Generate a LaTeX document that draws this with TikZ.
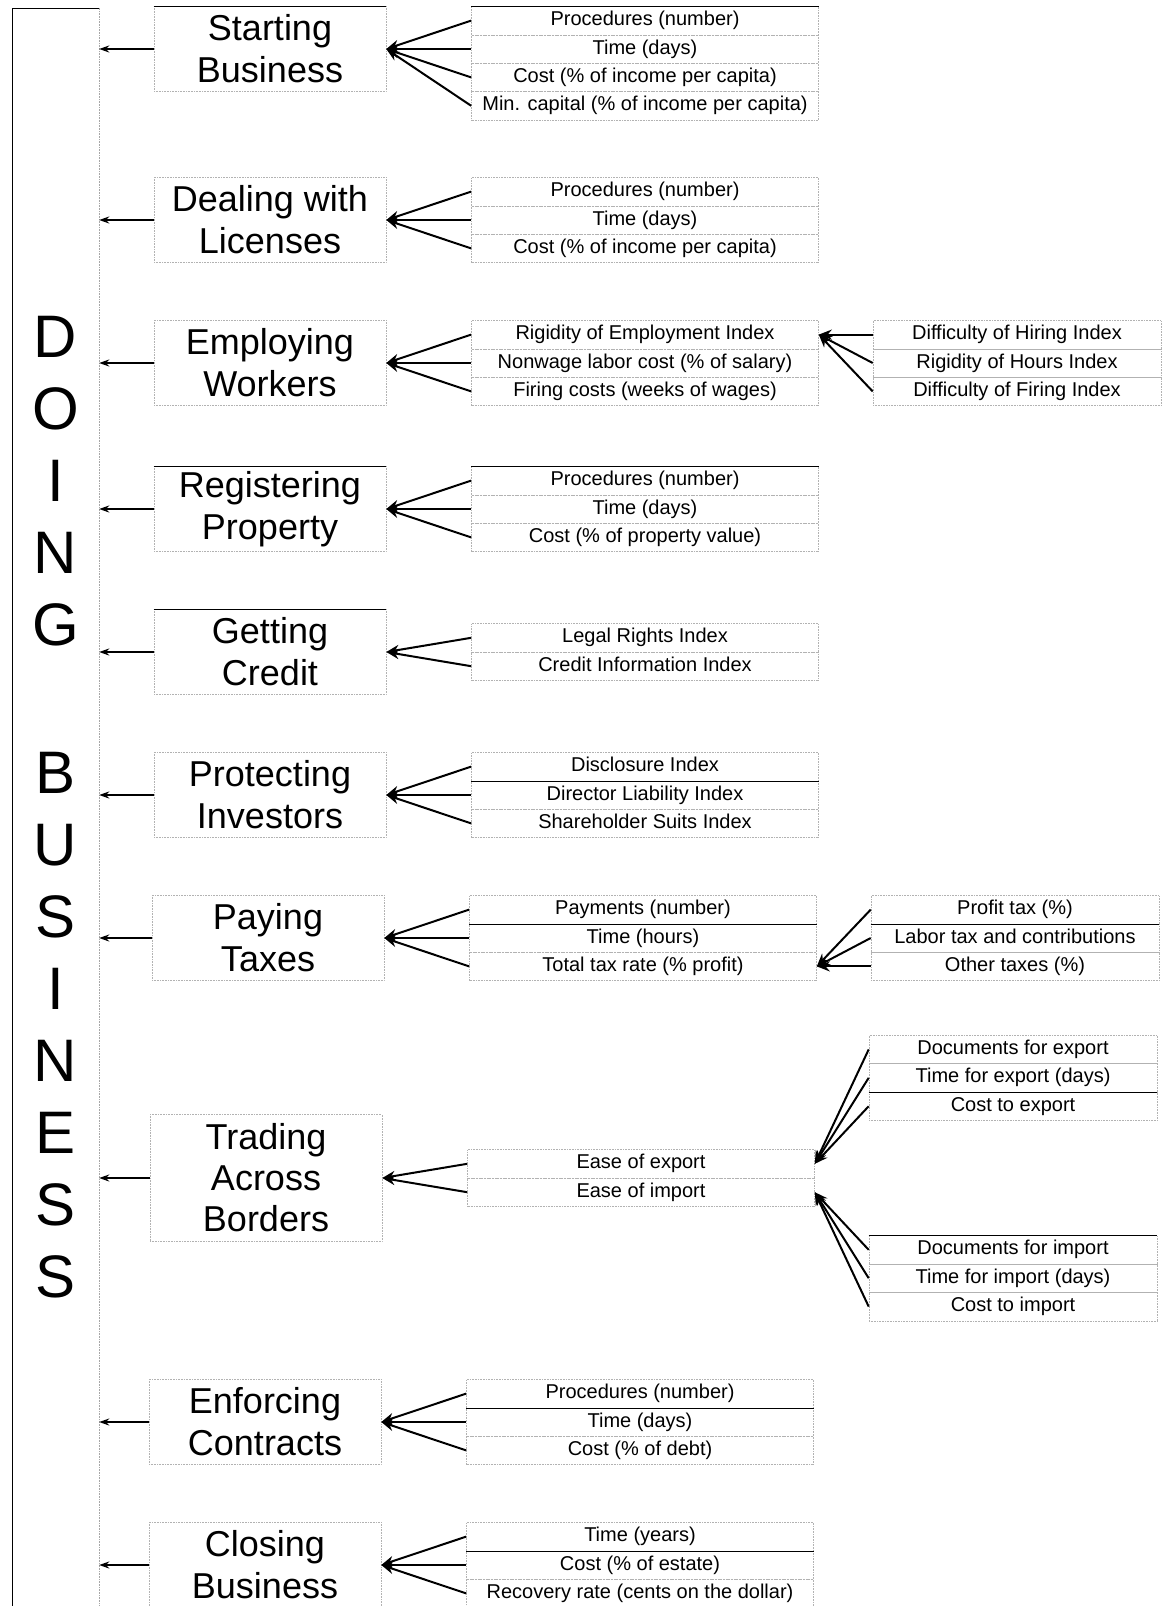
\documentclass[tikz,border=0pt]{standalone}
\usepackage{fontspec}
\setmainfont{Liberation Sans}
\usetikzlibrary{positioning,arrows.meta}

\tikzset{
  catbox/.style={draw=gray!60, densely dotted, line width=0.6pt, minimum width=232pt, minimum height=85.2pt, inner sep=0pt, align=center, font=\fontsize{36}{42}\selectfont},
  indbox/.style={draw=gray!60, densely dotted, line width=0.6pt, minimum width=347pt, minimum height=28.4pt, inner sep=0pt, text height=14.5pt, text depth=4.5pt, node distance=28.4pt, font=\fontsize{20}{24}\selectfont},
  subbox/.style={indbox, minimum width=288pt},
  fanline/.style={solid, ->, >={Stealth[length=13pt,width=10pt]}, line width=2pt},
  backarrow/.style={solid, ->, >={Stealth[length=10pt,width=7pt]}, line width=1.7pt},
  solidrule/.style={solid, line width=0.9pt}
}

\begin{document}
\begin{tikzpicture}[x=1pt,y=1pt,node distance=143pt]
\useasboundingbox (0,0) rectangle (1163,-1606);

% big label on the left
\node[minimum width=87pt, minimum height=1598pt, inner sep=0pt, align=center, font=\fontsize{60}{72}\selectfont] (DB) at (55.5,-807) {D\\O\\I\\N\\G\\[76pt]B\\U\\S\\I\\N\\E\\S\\S};
\draw (DB.south west) -- (DB.north west) -- (DB.north east);
\draw[gray!70, densely dotted, line width=0.6pt] (DB.north east) -- (DB.south east);

% categories
\node[catbox] (SB) at (270,-49) {Starting\\Business};
\node[catbox] (DL) [below of = SB, yshift=-28] {Dealing with\\Licenses};
\node[catbox] (EW) [below of = DL] {Employing\\Workers};
\node[catbox] (RP) [below of = EW, yshift=-3] {Registering\\Property};
\node[catbox] (GC) [below of = RP] {Getting\\Credit};
\node[catbox] (PI) [below of = GC] {Protecting\\Investors};
\node[catbox] (PT) [below of = PI, xshift=-2] {Paying\\Taxes};
\node[catbox, minimum height=127pt, font=\fontsize{36}{41}\selectfont] (TB) [below of = PT, yshift=-97, xshift=-2] {Trading\\Across\\Borders};
\node[catbox] (EC) [below of = TB, yshift=-101, xshift=-1] {Enforcing\\Contracts};
\node[catbox] (CB) [below of = EC] {Closing\\Business};

% indicators
\node[indbox] (SB2) [right of = SB, node distance=375pt] {Time (days)};
\node[indbox] (SB1) [above of = SB2] {Procedures (number)};
\node[indbox] (SB3) [below of = SB2] {Cost (\% of income per capita)};
\node[indbox] (SB4) [below of = SB3] {Min. capital (\% of income per capita)};

\node[indbox] (DL2) [right of = DL, node distance=375pt] {Time (days)};
\node[indbox] (DL1) [above of = DL2] {Procedures (number)};
\node[indbox] (DL3) [below of = DL2] {Cost (\% of income per capita)};

\node[indbox] (EW2) [right of = EW, node distance=375pt] {Nonwage labor cost (\% of salary)};
\node[indbox] (EW1) [above of = EW2] {Rigidity of Employment Index};
\node[indbox] (EW3) [below of = EW2] {Firing costs (weeks of wages)};

\node[subbox] (EWs2) [right of = EW2, node distance=372pt] {Rigidity of Hours Index};
\node[subbox] (EWs1) [above of = EWs2] {Difficulty of Hiring Index};
\node[subbox] (EWs3) [below of = EWs2] {Difficulty of Firing Index};

\node[indbox] (RP2) [right of = RP, node distance=375pt] {Time (days)};
\node[indbox] (RP1) [above of = RP2] {Procedures (number)};
\node[indbox] (RP3) [below of = RP2] {Cost (\% of property value)};

\node[indbox] (GC1) [right of = GC, node distance=375pt, yshift=14.2] {Legal Rights Index};
\node[indbox] (GC2) [below of = GC1] {Credit Information Index};

\node[indbox] (PI2) [right of = PI, node distance=375pt] {Director Liability Index};
\node[indbox] (PI1) [above of = PI2] {Disclosure Index};
\node[indbox] (PI3) [below of = PI2] {Shareholder Suits Index};

\node[indbox] (PT2) [right of = PT, node distance=375pt] {Time (hours)};
\node[indbox] (PT1) [above of = PT2] {Payments (number)};
\node[indbox] (PT3) [below of = PT2] {Total tax rate (\% profit)};

\node[subbox] (PTs2) [right of = PT2, node distance=372pt] {Labor tax and contributions};
\node[subbox] (PTs1) [above of = PTs2] {Profit tax (\%)};
\node[subbox] (PTs3) [below of = PTs2] {Other taxes (\%)};

\node[indbox] (TB1) [right of = TB, node distance=375pt, yshift=14.2] {Ease of export};
\node[indbox] (TB2) [below of = TB1] {Ease of import};

\node[subbox] (EX2) [right of = TB1, node distance=372pt, yshift=86] {Time for export (days)};
\node[subbox] (EX1) [above of = EX2] {Documents for export};
\node[subbox] (EX3) [below of = EX2] {Cost to export};

\node[subbox] (IM2) [right of = TB2, node distance=372pt, yshift=-86] {Time for import (days)};
\node[subbox] (IM1) [above of = IM2] {Documents for import};
\node[subbox] (IM3) [below of = IM2] {Cost to import};

\node[indbox] (EC2) [right of = EC, node distance=375pt] {Time (days)};
\node[indbox] (EC1) [above of = EC2] {Procedures (number)};
\node[indbox] (EC3) [below of = EC2] {Cost (\% of debt)};

\node[indbox] (CB2) [right of = CB, node distance=375pt] {Cost (\% of estate)};
\node[indbox] (CB1) [above of = CB2] {Time (years)};
\node[indbox] (CB3) [below of = CB2] {Recovery rate (cents on the dollar)};

% solid rules
\draw[solidrule]
  (SB.north west) -- (SB.north east) (SB1.north west) -- (SB1.north east)
  (RP.north west) -- (RP.north east) (RP1.north west) -- (RP1.north east)
  (GC.north west) -- (GC.north east)
  (PI1.south west) -- (PI1.south east)
  (PT1.south west) -- (PT1.south east) (PTs1.south west) -- (PTs1.south east)
  (EX2.south west) -- (EX2.south east) (IM1.north west) -- (IM1.north east)
  (EC1.south west) -- (EC1.south east)
  (CB1.south west) -- (CB1.south east);

% arrows
\path[fanline]
  (SB1.west) edge (SB.east)
  (SB2.west) edge (SB.east)
  (SB3.west) edge (SB.east)
  (SB4.west) edge (SB.east)
  (DL1.west) edge (DL.east)
  (DL2.west) edge (DL.east)
  (DL3.west) edge (DL.east)
  (EW1.west) edge (EW.east)
  (EW2.west) edge (EW.east)
  (EW3.west) edge (EW.east)
  (EWs1.west) edge (EW1.east)
  (EWs2.west) edge (EW1.east)
  (EWs3.west) edge (EW1.east)
  (RP1.west) edge (RP.east)
  (RP2.west) edge (RP.east)
  (RP3.west) edge (RP.east)
  (GC1.west) edge (GC.east)
  (GC2.west) edge (GC.east)
  (PI1.west) edge (PI.east)
  (PI2.west) edge (PI.east)
  (PI3.west) edge (PI.east)
  (PT1.west) edge (PT.east)
  (PT2.west) edge (PT.east)
  (PT3.west) edge (PT.east)
  (PTs1.west) edge (PT3.east)
  (PTs2.west) edge (PT3.east)
  (PTs3.west) edge (PT3.east)
  (TB1.west) edge (TB.east)
  (TB2.west) edge (TB.east)
  (EX1.west) edge (TB1.east)
  (EX2.west) edge (TB1.east)
  (EX3.west) edge (TB1.east)
  (IM1.west) edge (TB2.east)
  (IM2.west) edge (TB2.east)
  (IM3.west) edge (TB2.east)
  (EC1.west) edge (EC.east)
  (EC2.west) edge (EC.east)
  (EC3.west) edge (EC.east)
  (CB1.west) edge (CB.east)
  (CB2.west) edge (CB.east)
  (CB3.west) edge (CB.east);

\path[backarrow]
  (SB.west) edge (SB.west -| DB.east)
  (DL.west) edge (DL.west -| DB.east)
  (EW.west) edge (EW.west -| DB.east)
  (RP.west) edge (RP.west -| DB.east)
  (GC.west) edge (GC.west -| DB.east)
  (PI.west) edge (PI.west -| DB.east)
  (PT.west) edge (PT.west -| DB.east)
  (TB.west) edge (TB.west -| DB.east)
  (EC.west) edge (EC.west -| DB.east)
  (CB.west) edge (CB.west -| DB.east);
\end{tikzpicture}
\end{document}
